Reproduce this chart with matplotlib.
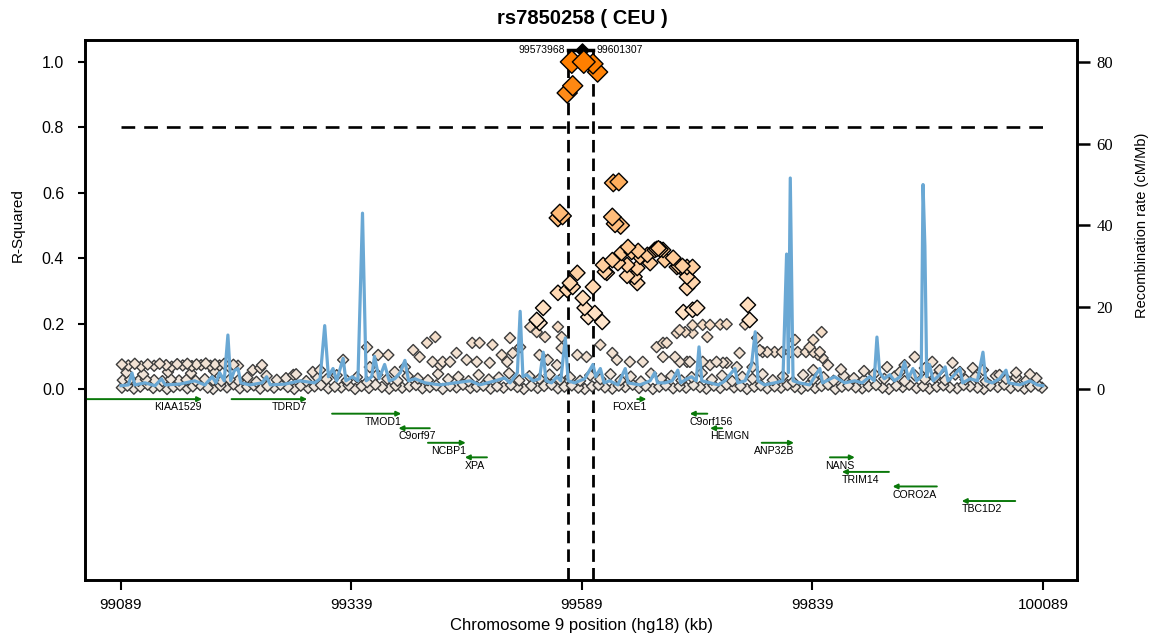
import matplotlib
matplotlib.use("Agg")
import matplotlib.pyplot as plt
from matplotlib.colors import LinearSegmentedColormap
import numpy as np

# ==============================
# DATA
# ==============================
TITLE = "rs7850258 ( CEU )"
QUERY_POS = 99589.0
QUERY_R2 = 1.035
LD_LEFT = 99573.968
LD_RIGHT = 99601.307
X_TICKS = [99089, 99339, 99589, 99839, 100089]
R2_TICKS = [0.0, 0.2, 0.4, 0.6, 0.8, 1.0]
RATE_TICKS = [0, 20, 40, 60, 80]

# baseline row of SNPs (r2 close to 0)
base_pos = [99090, 99096, 99103, 99110, 99118, 99124, 99131, 99139, 99146, 99153,
            99161, 99167, 99175, 99183, 99189, 99197, 99204, 99211, 99218, 99226,
            99233, 99240, 99248, 99255, 99262, 99270, 99277, 99284, 99292, 99299,
            99306, 99314, 99321, 99328, 99336, 99343, 99350, 99358, 99365, 99372,
            99380, 99387, 99394, 99402, 99409, 99416, 99424, 99431, 99438, 99446,
            99453, 99460, 99468, 99475, 99482, 99490, 99497, 99504, 99512, 99519,
            99526, 99534, 99541, 99548, 99556, 99563, 99570, 99578, 99585, 99592,
            99600, 99607, 99614, 99622, 99629, 99636, 99644, 99651, 99658, 99666,
            99673, 99680, 99688, 99695, 99702, 99710, 99717, 99724, 99732, 99739,
            99746, 99754, 99761, 99768, 99776, 99783, 99790, 99798, 99805, 99812,
            99820, 99827, 99834, 99842, 99849, 99856, 99864, 99871, 99878, 99886,
            99893, 99900, 99908, 99915, 99922, 99930, 99937, 99944, 99952, 99959,
            99966, 99974, 99981, 99988, 99996, 100003, 100010, 100018, 100025, 100032,
            100040, 100047, 100054, 100062, 100069, 100076, 100084, 100088]
base_r2 = [0.004, 0.010, 0.001, 0.007, 0.013, 0.003, 0.009, 0.000, 0.006, 0.011,
           0.002, 0.008, 0.012, 0.004, 0.000, 0.010, 0.005, 0.014, 0.002, 0.007,
           0.011, 0.001, 0.009, 0.004, 0.013, 0.006, 0.000, 0.010, 0.003, 0.008,
           0.012, 0.002, 0.007, 0.005, 0.011, 0.000, 0.009, 0.003, 0.013, 0.006,
           0.001, 0.010, 0.004, 0.008, 0.012, 0.002, 0.006, 0.011, 0.000, 0.009,
           0.005, 0.013, 0.003, 0.007, 0.010, 0.001, 0.008, 0.004, 0.012, 0.006,
           0.000, 0.010, 0.003, 0.009, 0.013, 0.002, 0.007, 0.011, 0.004, 0.000,
           0.008, 0.012, 0.005, 0.001, 0.010, 0.006, 0.013, 0.003, 0.009, 0.000,
           0.007, 0.011, 0.002, 0.008, 0.004, 0.012, 0.006, 0.001, 0.010, 0.003,
           0.013, 0.005, 0.009, 0.000, 0.007, 0.011, 0.002, 0.008, 0.004, 0.012,
           0.006, 0.001, 0.010, 0.003, 0.009, 0.013, 0.000, 0.007, 0.011, 0.005,
           0.002, 0.008, 0.012, 0.004, 0.000, 0.010, 0.006, 0.013, 0.003, 0.009,
           0.001, 0.007, 0.011, 0.005, 0.002, 0.012, 0.008, 0.004, 0.000, 0.010,
           0.006, 0.013, 0.003, 0.009, 0.001, 0.007, 0.011, 0.004]

# second low row (r2 about 0.02 - 0.05)
row_pos = [99091, 99099, 99108, 99116, 99125, 99134, 99143, 99152, 99160, 99170,
           99180, 99189, 99198, 99207, 99216, 99226, 99236, 99247, 99258, 99268,
           99279, 99290, 99301, 99312, 99323, 99334, 99345, 99356, 99367, 99378,
           99389, 99400, 99411, 99422, 99433, 99444, 99455, 99466, 99477, 99488,
           99499, 99510, 99521, 99532, 99543, 99554, 99565, 99576, 99587, 99598,
           99609, 99620, 99631, 99642, 99653, 99664, 99675, 99686, 99697, 99708,
           99719, 99730, 99741, 99752, 99763, 99774, 99785, 99796, 99807, 99818,
           99829, 99840, 99851, 99862, 99873, 99884, 99895, 99906, 99917, 99928,
           99939, 99950, 99961, 99972, 99983, 99994, 100005, 100016, 100027, 100038,
           100049, 100060, 100071, 100082]
row_r2 = [0.027, 0.030, 0.025, 0.029, 0.027, 0.024, 0.030, 0.026, 0.028, 0.025,
          0.030, 0.027, 0.024, 0.029, 0.026, 0.035, 0.022, 0.040, 0.028, 0.033,
          0.045, 0.024, 0.038, 0.030, 0.042, 0.026, 0.036, 0.021, 0.044, 0.031,
          0.025, 0.040, 0.032, 0.027, 0.046, 0.030, 0.037, 0.024, 0.043, 0.029,
          0.035, 0.048, 0.026, 0.039, 0.031, 0.044, 0.028, 0.036, 0.025, 0.042,
          0.030, 0.045, 0.027, 0.038, 0.023, 0.047, 0.032, 0.040, 0.026, 0.036,
          0.049, 0.029, 0.041, 0.024, 0.037, 0.031, 0.045, 0.027, 0.039, 0.022,
          0.043, 0.030, 0.036, 0.025, 0.041, 0.033, 0.028, 0.046, 0.031, 0.038,
          0.024, 0.042, 0.030, 0.035, 0.027, 0.044, 0.029, 0.037, 0.023, 0.040,
          0.031, 0.036, 0.026, 0.033]

# band of SNPs on the left (r2 about 0.07)
band_pos = [99090, 99097, 99104, 99111, 99118, 99125, 99131, 99138, 99144, 99150,
            99156, 99161, 99166, 99171, 99176, 99181, 99186, 99191, 99196, 99201,
            99206, 99211, 99216, 99095, 99113, 99140, 99165, 99190]
band_r2 = [0.075, 0.072, 0.077, 0.069, 0.075, 0.071, 0.077, 0.073, 0.068, 0.076,
           0.072, 0.077, 0.070, 0.075, 0.073, 0.078, 0.071, 0.075, 0.072, 0.077,
           0.069, 0.074, 0.071, 0.050, 0.045, 0.052, 0.048, 0.055]

# scattered weak-LD SNPs (r2 below 0.2)
weak_pos = [99240, 99242, 99232, 99276, 99297, 99305, 99330, 99356, 99368, 99379,
            99406, 99421, 99413, 99397, 99359, 99386, 99435, 99430, 99470, 99478,
            99492, 99511, 99522, 99533, 99540, 99549, 99563, 99567, 99453, 99427,
            99438, 99446, 99464, 99475, 99489, 99502, 99508, 99514, 99543, 99552,
            99562, 99567, 99584, 99594, 99609, 99622, 99627, 99641, 99655, 99670,
            99677, 99690, 99703, 99720, 99735, 99746, 99760, 99785, 99798, 99692,
            99701, 99709, 99720, 99728, 99739, 99746, 99766, 99725, 99695, 99709,
            99779, 99782, 99790, 99806, 99815, 99823, 99832, 99840, 99847, 99820,
            99840, 99681, 99677, 99695, 99706, 99728, 99742, 99757, 99774, 99849,
            99836, 99845, 99850, 99856, 99840, 99950, 99969, 99991, 99920, 100013,
            100024, 99934, 99977, 100042, 99999, 99961, 99939, 99870, 99895, 100060,
            100075]
weak_r2 = [0.064, 0.073, 0.058, 0.043, 0.052, 0.058, 0.089, 0.128, 0.104, 0.104,
           0.119, 0.141, 0.098, 0.067, 0.067, 0.052, 0.073, 0.159, 0.141, 0.141,
           0.135, 0.156, 0.128, 0.190, 0.174, 0.159, 0.190, 0.159, 0.110, 0.083,
           0.083, 0.083, 0.089, 0.083, 0.080, 0.104, 0.083, 0.110, 0.104, 0.089,
           0.073, 0.125, 0.104, 0.098, 0.135, 0.110, 0.089, 0.083, 0.083, 0.128,
           0.141, 0.098, 0.083, 0.083, 0.083, 0.080, 0.110, 0.113, 0.113, 0.171,
           0.174, 0.195, 0.196, 0.196, 0.197, 0.198, 0.197, 0.159, 0.180, 0.171,
           0.156, 0.119, 0.113, 0.113, 0.113, 0.113, 0.113, 0.113, 0.113, 0.150,
           0.150, 0.141, 0.098, 0.083, 0.083, 0.073, 0.080, 0.067, 0.067, 0.174,
           0.128, 0.105, 0.095, 0.073, 0.058, 0.098, 0.083, 0.080, 0.067, 0.064,
           0.058, 0.052, 0.058, 0.043, 0.052, 0.064, 0.073, 0.060, 0.055, 0.050,
           0.045]

# SNPs in moderate LD (r2 0.2 - 0.5)
mod_pos = [99639, 99632, 99643, 99650, 99652, 99660, 99668, 99670, 99672, 99674,
           99677, 99679, 99688, 99692, 99694, 99696, 99698, 99703, 99709, 99703,
           99703, 99709, 99638, 99649, 99646, 99638, 99649, 99622, 99612, 99616,
           99628, 99663, 99614, 99584, 99576, 99579, 99563, 99573, 99601, 99590,
           99592, 99603, 99611, 99596, 99547, 99540, 99543, 99699, 99709, 99714,
           99769, 99771]
mod_r2 = [0.434, 0.416, 0.419, 0.422, 0.404, 0.410, 0.425, 0.428, 0.430, 0.427,
          0.425, 0.394, 0.401, 0.373, 0.376, 0.373, 0.376, 0.373, 0.373, 0.343,
          0.309, 0.327, 0.379, 0.370, 0.343, 0.346, 0.324, 0.394, 0.379, 0.355,
          0.385, 0.385, 0.358, 0.355, 0.324, 0.312, 0.294, 0.303, 0.312, 0.278,
          0.248, 0.232, 0.205, 0.220, 0.248, 0.211, 0.202, 0.235, 0.242, 0.248,
          0.257, 0.211]

# SNPs in strong LD (r2 above 0.5)
strong_pos = [99623, 99629, 99563, 99565, 99568, 99622, 99625, 99631,
              99578, 99591, 99601, 99606, 99579, 99573]
strong_r2 = [0.630, 0.633, 0.523, 0.538, 0.529, 0.526, 0.505, 0.500,
             1.000, 1.000, 0.994, 0.969, 0.927, 0.905]

# recombination rate (cM/Mb)
recomb_pos = [99089, 99097, 99101, 99104, 99115, 99126, 99133, 99137, 99153, 99169,
              99180, 99188, 99192, 99196, 99201, 99205, 99208, 99212, 99216, 99219,
              99229, 99242, 99247, 99251, 99267, 99283, 99299, 99305, 99310, 99314,
              99319, 99323, 99330, 99333, 99340, 99346, 99351, 99355, 99361, 99364,
              99369, 99375, 99380, 99386, 99392, 99397, 99401, 99408, 99419, 99435,
              99451, 99468, 99478, 99495, 99505, 99511, 99519, 99522, 99525, 99529,
              99536, 99543, 99547, 99550, 99556, 99562, 99566, 99571, 99574, 99581,
              99592, 99601, 99604, 99609, 99613, 99619, 99628, 99636, 99639, 99652,
              99663, 99668, 99671, 99679, 99687, 99693, 99696, 99703, 99708, 99713,
              99716, 99719, 99728, 99737, 99744, 99755, 99758, 99766, 99773, 99777,
              99780, 99787, 99798, 99807, 99811, 99813, 99815, 99818, 99825, 99836,
              99847, 99850, 99863, 99874, 99885, 99893, 99901, 99906, 99909, 99912,
              99917, 99923, 99928, 99934, 99939, 99943, 99948, 99952, 99957, 99959,
              99961, 99963, 99966, 99970, 99977, 99983, 99986, 99991, 99999, 100002,
              100010, 100018, 100024, 100027, 100034, 100042, 100049, 100052, 100064, 100075,
              100083, 100089]
recomb_rate = [0.8, 1.0, 3.9, 1.0, 1.5, 0.8, 2.5, 1.0, 1.2, 2.0,
               1.0, 3.0, 1.5, 4.0, 2.0, 13.2, 2.0, 4.5, 5.0, 1.5,
               1.0, 1.5, 3.0, 1.0, 1.2, 2.0, 1.5, 2.5, 15.5, 3.0,
               5.0, 2.0, 7.5, 2.0, 3.0, 2.0, 43.0, 2.0, 3.0, 8.0,
               2.5, 6.0, 2.0, 2.5, 4.0, 7.0, 2.0, 2.5, 1.5, 1.0,
               1.5, 2.0, 1.0, 2.0, 2.7, 1.5, 4.0, 19.0, 3.0, 3.5,
               2.0, 2.5, 9.0, 2.0, 1.5, 3.0, 2.0, 12.5, 2.0, 1.5,
               2.5, 6.0, 3.0, 5.0, 1.5, 2.0, 1.0, 5.0, 1.5, 1.0,
               2.0, 4.0, 1.5, 1.5, 2.0, 4.6, 1.5, 2.5, 3.0, 2.0,
               10.3, 2.0, 1.5, 1.0, 2.0, 5.0, 1.5, 2.0, 6.0, 14.0,
               2.0, 1.0, 1.5, 2.0, 33.0, 4.0, 51.6, 2.0, 1.5, 1.0,
               5.0, 1.5, 3.0, 1.5, 2.0, 1.5, 3.0, 2.0, 12.7, 4.0,
               2.5, 3.5, 2.0, 3.0, 6.6, 2.5, 5.0, 2.0, 3.0, 50.0,
               35.0, 3.0, 6.0, 2.0, 3.5, 5.4, 2.0, 3.0, 5.0, 1.5,
               2.5, 2.0, 9.0, 2.0, 1.5, 2.5, 4.6, 1.5, 1.0, 2.0,
               1.0, 0.8]

# genes
gene_names = ["KIAA1529", "TDRD7", "TMOD1", "C9orf97", "NCBP1", "XPA", "FOXE1",
              "C9orf156", "HEMGN", "ANP32B", "NANS", "TRIM14", "CORO2A", "TBC1D2"]
gene_start = [99051, 99209, 99318, 99390, 99422, 99462, 99649,
              99706, 99728, 99784, 99858, 99871, 99926, 100001]
gene_end = [99177, 99291, 99393, 99424, 99463, 99486, 99659,
            99725, 99741, 99819, 99885, 99922, 99974, 100059]
gene_strand = ["+", "+", "+", "-", "+", "-", "+", "-", "-", "+", "+", "-", "-", "-"]
gene_row = [0, 0, 1, 2, 3, 4, 0, 1, 2, 3, 4, 5, 6, 7]

# ==============================
# STYLE
# ==============================
W, H = 1153, 634
AX_L, AX_R, AX_T, AX_B = 85, 1077, 40, 580
YMIN, YMAX = -0.584, 1.067
XMIN, XMAX = 99050, 100126
RATE_SCALE = 80.0
BLUE = "#6aa8d4"
GREEN = "#0a780a"
cmap = LinearSegmentedColormap.from_list("ld", ["#ffffff", "#ff7f00"])
low_cmap = LinearSegmentedColormap.from_list("low", ["#efe6de", "#f6dcc4"])

plt.rcParams["font.family"] = ["Liberation Sans", "DejaVu Sans"]

fig = plt.figure(figsize=(W / 100, H / 100), dpi=100)
ax = fig.add_axes([AX_L / W, (H - AX_B) / H, (AX_R - AX_L) / W, (AX_B - AX_T) / H])
ax.set_xlim(XMIN, XMAX)
ax.set_ylim(YMIN, YMAX)

# ---- SNPs ----
pos = np.array(base_pos + row_pos + band_pos + weak_pos + mod_pos + strong_pos, dtype=float)
r2 = np.array(base_r2 + row_r2 + band_r2 + weak_r2 + mod_r2 + strong_r2, dtype=float)
order = np.argsort(r2, kind="stable")
pos, r2 = pos[order], r2[order]

low = r2 < 0.2
sizes = np.where(low, 32, np.where(r2 < 0.5, 62, np.where(r2 < 0.8, 80, 105)))
sizes = np.where(r2 >= 0.999, 135, sizes)
faces = np.where(low[:, None], low_cmap(r2 / 0.2), cmap(np.clip(r2, 0, 1)))
edges = ["#3c3c3c" if l else "#000000" for l in low]
ax.scatter(pos, r2, s=sizes, marker="D", c=faces, edgecolors=edges,
           linewidths=1.0, zorder=3)

# query SNP bracket
ax.plot([LD_LEFT, LD_RIGHT], [QUERY_R2, QUERY_R2], color="black", lw=2.5, zorder=2)
ax.scatter([QUERY_POS], [QUERY_R2], s=45, marker="D", color="black", zorder=2)
ax.text(LD_LEFT - 3, QUERY_R2, "99573968", fontsize=7.5, ha="right", va="center")
ax.text(LD_RIGHT + 3, QUERY_R2, "99601307", fontsize=7.5, ha="left", va="center")

# dashed guides
ax.plot([X_TICKS[0], X_TICKS[-1]], [0.8, 0.8], color="black", lw=1.9,
        dashes=(5.2, 3.4), zorder=2)
for xv in (LD_LEFT, LD_RIGHT):
    ax.plot([xv, xv], [YMIN, QUERY_R2], color="black", lw=2.0,
            dashes=(4.5, 2.2), zorder=2)

# ---- genes ----
ROW_Y0, ROW_STEP = -0.031, 0.0445
for name, s0, e0, st, rw in zip(gene_names, gene_start, gene_end, gene_strand, gene_row):
    gy = ROW_Y0 - rw * ROW_STEP
    tail, head = (s0, e0) if st == "+" else (e0, s0)
    ax.annotate("", xy=(head, gy), xytext=(tail, gy),
                arrowprops=dict(arrowstyle="-|>", color=GREEN, lw=1.4,
                                mutation_scale=7, shrinkA=0, shrinkB=0))
    if st == "+":
        ax.text(e0, gy - 0.025, name, fontsize=7.6, ha="right", va="center")
    else:
        ax.text(s0, gy - 0.025, name, fontsize=7.6, ha="left", va="center")

# ---- axes ----
ax.set_xticks(X_TICKS)
ax.set_xticklabels([str(v) for v in X_TICKS], fontsize=11)
ax.set_yticks(R2_TICKS)
ax.set_yticklabels(["%.1f" % v for v in R2_TICKS], fontsize=11.5)
ax.tick_params(axis="x", length=7, width=1.5, pad=6)
ax.tick_params(axis="y", length=5, width=1.5, pad=10)
for sp in ax.spines.values():
    sp.set_linewidth(1.9)
ax.set_xlabel("Chromosome 9 position (hg18) (kb)", fontsize=12, labelpad=4)
ax.set_ylabel("R-Squared", fontsize=11)
frac = (0.5 - YMIN) / (YMAX - YMIN)
ax.yaxis.set_label_coords(-0.061, frac)

# ---- recombination rate ----
ax2 = ax.twinx()
ax2.set_ylim(YMIN * RATE_SCALE, YMAX * RATE_SCALE)
ax2.set_xlim(XMIN, XMAX)
ax2.plot(recomb_pos, recomb_rate, color=BLUE, lw=2.3, zorder=4)
ax2.set_yticks(RATE_TICKS)
ax2.set_yticklabels([str(v) for v in RATE_TICKS], fontsize=12,
                    family=["Liberation Serif", "DejaVu Serif"])
ax2.tick_params(axis="y", length=9, width=1.8, pad=5)
for sp in ax2.spines.values():
    sp.set_linewidth(1.9)
ax2.set_ylabel("Recombination rate (cM/Mb)", fontsize=10.5)
ax2.yaxis.set_label_coords(1.058, frac)

fig.text(0.505, 1 - 18 / H, TITLE, fontsize=14.5, fontweight="bold",
         ha="center", va="center")

fig.savefig("out.png", dpi=100)
